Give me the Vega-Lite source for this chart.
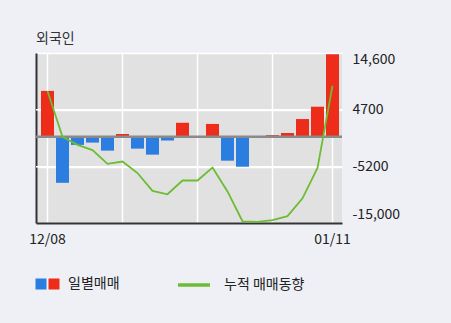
{
  "$schema": "https://vega.github.io/schema/vega-lite/v6.json",
  "width": 306,
  "height": 170,
  "autosize": {"type": "none"},
  "padding": {"left": 36, "top": 53, "right": 109, "bottom": 100},
  "background": "#eef0f5",
  "title": {"text": "외국인", "anchor": "start", "frame": "group", "offset": 6, "fontSize": 14, "fontWeight": "normal", "color": "#333333", "font": "Noto Sans CJK KR"},
  "config": {
    "view": {"fill": "#e1e1e1", "stroke": null},
    "font": "Noto Sans CJK KR"
  },
  "data": {
    "values": [
      {"d": "12/08", "v": 8000, "cum": 8000, "t": "매수"},
      {"d": "12/09", "v": -8000, "cum": 0, "t": "매도"},
      {"d": "12/10", "v": -1400, "cum": -1400, "t": "매도"},
      {"d": "12/11", "v": -1000, "cum": -2300, "t": "매도"},
      {"d": "12/14", "v": -2400, "cum": -4700, "t": "매도"},
      {"d": "12/15", "v": 500, "cum": -4300, "t": "매수"},
      {"d": "12/16", "v": -2050, "cum": -6300, "t": "매도"},
      {"d": "12/17", "v": -3100, "cum": -9400, "t": "매도"},
      {"d": "12/18", "v": -650, "cum": -10000, "t": "매도"},
      {"d": "12/21", "v": 2450, "cum": -7600, "t": "매수"},
      {"d": "12/22", "v": 0, "cum": -7600, "t": "매수"},
      {"d": "12/23", "v": 2250, "cum": -5350, "t": "매수"},
      {"d": "12/24", "v": -4150, "cum": -9500, "t": "매도"},
      {"d": "12/28", "v": -5200, "cum": -14700, "t": "매도"},
      {"d": "12/29", "v": 0, "cum": -14800, "t": "매수"},
      {"d": "12/30", "v": 300, "cum": -14500, "t": "매수"},
      {"d": "01/04", "v": 650, "cum": -13800, "t": "매수"},
      {"d": "01/05", "v": 3100, "cum": -10700, "t": "매수"},
      {"d": "01/06", "v": 5250, "cum": -5400, "t": "매수"},
      {"d": "01/11", "v": 14400, "cum": 8900, "t": "매수"}
    ]
  },
  "layer": [
    {
      "data": {"values": [{"g": -5200}, {"g": 4700}]},
      "mark": {"type": "rule", "color": "#ffffff", "strokeWidth": 1.5},
      "encoding": {
        "y": {"field": "g", "type": "quantitative", "axis": null}
      }
    },
    {
      "mark": {"type": "bar"},
      "encoding": {
        "x": {
          "field": "d", "type": "ordinal", "sort": null,
          "scale": {"paddingInner": 0.1333, "paddingOuter": 0.2667, "align": 0.625},
          "axis": {
            "title": null, "labelAngle": 0, "ticks": false,
            "values": ["12/08", "12/15", "12/22", "12/30", "01/11"],
            "labelExpr": "datum.value == '12/08' || datum.value == '01/11' ? datum.value : ''",
            "labelFontSize": 14, "labelColor": "#222222", "labelPadding": 9, "labelDx": 3,
            "domainColor": "#333333", "domainWidth": 2,
            "grid": true, "gridColor": "#ffffff", "gridWidth": 1.5
          }
        },
        "y": {
          "field": "v", "type": "quantitative",
          "scale": {"domain": [-15000, 14600], "nice": false, "zero": false},
          "axis": {
            "orient": "left", "title": null, "labels": false, "ticks": false,
            "values": [-15000, -5200, 4700, 14600],
            "domainColor": "#333333", "domainWidth": 2,
            "grid": true, "gridColor": "#ffffff", "gridWidth": 1.5, "gridOpacity": 1
          }
        },
        "color": {
          "field": "t", "type": "nominal",
          "scale": {"domain": ["매도", "매수"], "range": ["#2b7de0", "#ee2c1a"]},
          "legend": {
            "title": null, "orient": "none", "legendX": -2, "legendY": 224,
            "direction": "horizontal", "symbolType": "square", "symbolSize": 121,
            "symbolStrokeWidth": 0, "symbolOpacity": 1, "gridAlign": "none",
            "labelExpr": "datum.label == '매수' ? '일별매매' : ''",
            "labelFontSize": 14, "labelColor": "#222222", "labelOffset": 7,
            "columnPadding": -8, "padding": 0
          }
        }
      }
    },
    {
      "data": {"values": [{"z": 0}]},
      "mark": {"type": "rule", "color": "#8a8a8a", "strokeWidth": 2.5},
      "encoding": {
        "y": {"field": "z", "type": "quantitative", "axis": null}
      }
    },
    {
      "mark": {"type": "line", "strokeWidth": 1.8},
      "encoding": {
        "x": {"field": "d", "type": "ordinal", "sort": null},
        "y": {
          "field": "cum", "type": "quantitative",
          "axis": {
            "orient": "right", "title": null, "ticks": false, "domain": false,
            "grid": false,
            "values": [-15000, -5200, 4700, 14600],
            "labelExpr": "datum.value == 14600 ? '14,600' : datum.value == 4700 ? '4700' : datum.value == -5200 ? '-5200' : '-15,000'",
            "labelFontSize": 14, "labelColor": "#222222", "labelPadding": 10,
            "labelBaseline": "middle",
            "labelOffset": {"condition": [{"test": "datum.value == 14600", "value": 6}, {"test": "datum.value == -15000", "value": -8.5}], "value": 0}
          }
        },
        "stroke": {
          "datum": "누적 매매동향", "type": "nominal",
          "scale": {"range": ["#6cbd33"]},
          "legend": {
            "title": null, "orient": "none", "legendX": 140, "legendY": 214,
            "symbolType": "stroke", "symbolSize": 1024, "symbolStrokeWidth": 3.5,
            "labelFontSize": 14, "labelColor": "#222222", "labelOffset": 12, "padding": 0
          }
        }
      }
    }
  ],
  "resolve": {"axis": {"y": "independent"}}
}
